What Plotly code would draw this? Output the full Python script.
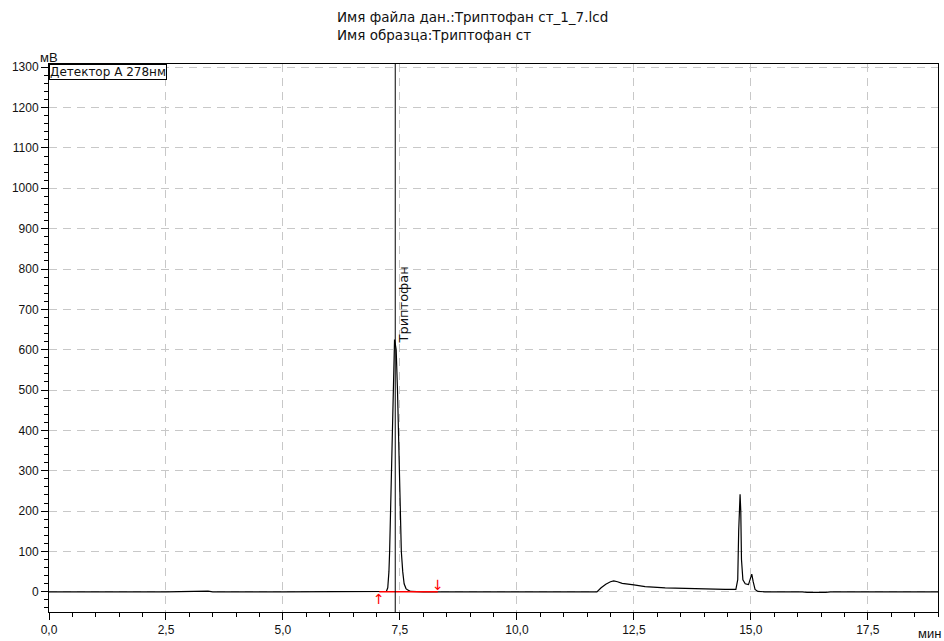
import plotly.graph_objects as go

# ---- data ----
times = [0.0, 1.0, 2.0, 2.3, 2.5, 3.4, 3.5, 5.0, 7.0, 7.18, 7.21, 7.24, 7.265, 7.28, 7.30,
         7.32, 7.335, 7.35, 7.37, 7.385, 7.40, 7.42, 7.448, 7.47, 7.49, 7.51, 7.53, 7.56,
         7.59, 7.63, 7.66, 7.73, 8.0, 10.0, 11.5, 11.71, 11.8, 11.9, 12.0, 12.07, 12.15,
         12.25, 12.5, 12.74, 13.17, 13.81, 14.45, 14.68, 14.72, 14.74, 14.76, 14.77, 14.785,
         14.80, 14.83, 14.88, 14.95, 14.99, 15.02, 15.05, 15.09, 15.15, 15.3, 16.1, 16.2,
         16.6, 16.7, 19.0]
signal = [0, 0, 0.5, -1, 0, 1.5, 0, 0, 0, 0, 1, 10, 50, 100, 200,
          300, 400, 500, 600, 625, 615, 600, 500, 400, 300, 200, 100, 50,
          20, 8, 5, 1, 0, 0, 0, 0, 10, 19, 25, 27, 25,
          21, 17, 13, 10, 7.5, 6, 6, 30, 150, 235, 242, 200,
          80, 30, 20, 18, 35, 44, 25, 6, 1, 0, 0, -1.5,
          -1.5, 0, 0]

peak_name = "Триптофан"
peak_rt = 7.40
baseline_start = 7.06
baseline_end = 8.31

x_ticks = [0.0, 2.5, 5.0, 7.5, 10.0, 12.5, 15.0, 17.5]
x_tick_labels = ["0,0", "2,5", "5,0", "7,5", "10,0", "12,5", "15,0", "17,5"]
y_ticks = [0, 100, 200, 300, 400, 500, 600, 700, 800, 900, 1000, 1100, 1200, 1300]
y_tick_labels = [str(v) for v in y_ticks]

title_line1 = "Имя файла дан.:Триптофан ст_1_7.lcd"
title_line2 = "Имя образца:Триптофан ст"
detector_label = "Детектор А 278нм"

X_RANGE = [0, 19]
Y_RANGE = [-50, 1308]

FONT = "Liberation Sans, Arial, sans-serif"
WIDE = "DejaVu Sans, Verdana, sans-serif"
TXT = "#111"

x_minor = [i * 0.5 for i in range(0, 39)]
y_minor = [v for v in range(-40, 1310, 20)]

fig = go.Figure()
fig.add_trace(go.Scatter(x=times, y=signal, mode="lines",
                         line=dict(color="black", width=1.2), hoverinfo="skip"))
fig.add_trace(go.Scatter(x=[baseline_start, baseline_end], y=[0, 0], mode="lines",
                         line=dict(color="#ff0000", width=1.5), hoverinfo="skip"))
# invisible trace that carries the minor-tick overlay axes
fig.add_trace(go.Scatter(x=X_RANGE, y=Y_RANGE, xaxis="x2", yaxis="y2", mode="lines",
                         line=dict(width=0, color="rgba(0,0,0,0)"), hoverinfo="skip"))

# retention time marker line
fig.add_shape(type="line", xref="x", yref="paper", x0=peak_rt, x1=peak_rt, y0=0, y1=1,
              line=dict(color="black", width=1))

grid = dict(showgrid=True, gridcolor="#c8c8c8", griddash="8px,6px", gridwidth=1)
axis_common = dict(showline=True, linecolor="black", linewidth=1, mirror=True,
                   ticks="outside", ticklen=7, tickcolor="black", zeroline=False,
                   automargin=False,
                   tickfont=dict(family=FONT, size=12, color=TXT), **grid)
minor_axis = dict(ticks="outside", ticklen=4, tickcolor="black", tickwidth=1,
                  showticklabels=False, showgrid=False, showline=False,
                  zeroline=False, automargin=False, tickmode="array")

fig.update_layout(
    xaxis=dict(range=X_RANGE, tickmode="array", tickvals=x_ticks, ticktext=x_tick_labels,
               **axis_common),
    yaxis=dict(range=Y_RANGE, tickmode="array", tickvals=y_ticks, ticktext=y_tick_labels,
               **axis_common),
    xaxis2=dict(range=X_RANGE, overlaying="x", anchor="y2", side="bottom",
                tickvals=x_minor, **minor_axis),
    yaxis2=dict(range=Y_RANGE, overlaying="y", anchor="x2", side="left",
                tickvals=y_minor, **minor_axis),
)

annotations = [
    dict(text=title_line1, xref="paper", yref="paper", x=0.3217, y=1, xanchor="left",
         yanchor="middle", yshift=47, showarrow=False, font=dict(family=WIDE, size=13.5, color=TXT)),
    dict(text=title_line2, xref="paper", yref="paper", x=0.3217, y=1, xanchor="left",
         yanchor="middle", yshift=29, showarrow=False, font=dict(family=WIDE, size=13.5, color=TXT)),
    dict(text=detector_label, xref="paper", yref="paper", x=0, y=1, xanchor="left",
         yanchor="top", showarrow=False, bordercolor="black", borderwidth=1, borderpad=0,
         bgcolor="white", font=dict(family=WIDE, size=12, color=TXT)),
    dict(text="мВ", xref="paper", yref="paper", x=0, y=1, xanchor="center",
         yanchor="middle", yshift=7, showarrow=False, font=dict(family=FONT, size=13, color=TXT)),
    dict(text="мин", xref="paper", yref="paper", x=0.991, y=0, xanchor="center",
         yanchor="middle", yshift=-21, showarrow=False, font=dict(family=FONT, size=13, color=TXT)),
    dict(text=peak_name, xref="x", yref="y", x=peak_rt, y=710, xanchor="center",
         yanchor="middle", xshift=8, textangle=-90, showarrow=False,
         font=dict(family=WIDE, size=13, color=TXT)),
    dict(text="↑", xref="x", yref="y", x=baseline_start, y=0, xanchor="center",
         yanchor="top", yshift=3, showarrow=False,
         font=dict(family="DejaVu Sans", size=14, color="#ff0000")),
    dict(text="↓", xref="x", yref="y", x=baseline_end, y=0, xanchor="center",
         yanchor="bottom", yshift=-3, showarrow=False,
         font=dict(family="DejaVu Sans", size=14, color="#ff0000")),
]

fig.update_layout(width=944, height=641, margin=dict(l=49, r=6, t=64, b=29),
                  plot_bgcolor="white", paper_bgcolor="white", showlegend=False,
                  annotations=annotations, font=dict(family=FONT, size=12, color=TXT))

fig.write_html("out.html", config={"displayModeBar": False},
               post_script="document.body.style.margin='0px';document.body.style.overflow='hidden';")
